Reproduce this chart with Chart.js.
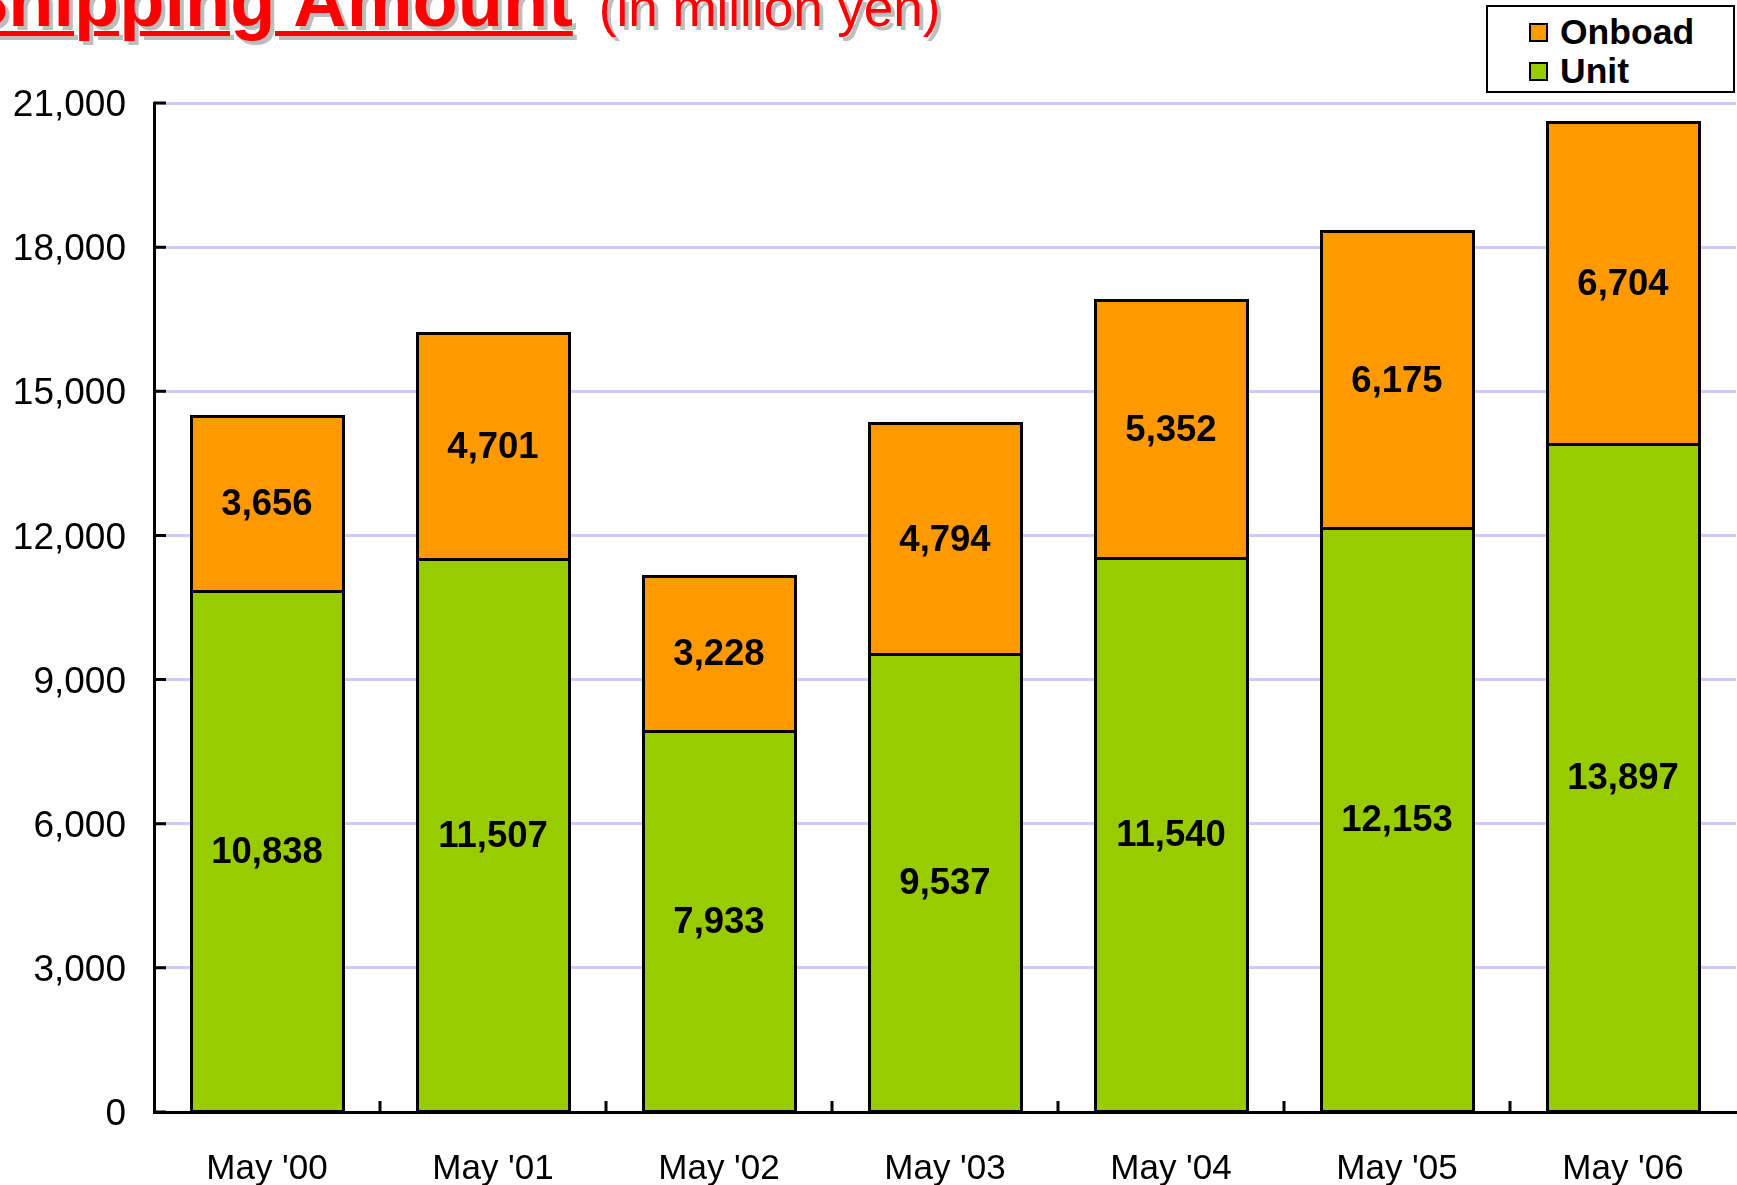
<!DOCTYPE html>
<html>
<head>
<meta charset="utf-8">
<script src="https://cdn.jsdelivr.net/npm/chart.js@4/dist/chart.umd.min.js"></script>
<style>
  body { margin: 0; overflow: hidden; background: #fff; font-family: "Liberation Sans", Arial, sans-serif; }
  #wrap { position: relative; width: 1737px; height: 1185px; }
  #title {
    position: absolute; left: -41px; top: -36px; white-space: nowrap;
    color: #ff0000; line-height: 74px; text-shadow: 4px 4px 0 #bdbdbd;
  }
  #title .main {
    font-size: 74px; font-weight: bold;
    text-decoration: underline; text-decoration-thickness: 5px; text-underline-offset: 5px;
  }
  #title .sub { font-size: 53px; margin-left: 26px; }
  #legend {
    position: absolute; left: 1486px; top: 5px; width: 245px; height: 84px;
    border: 2px solid #000; background: #fff;
  }
  .item { position: absolute; left: 41px; height: 36px; display: flex; align-items: center;
    font-size: 35.5px; font-weight: bold; color: #000; }
  .sw { width: 15px; height: 15px; border: 2px solid #000; margin-right: 12px; }
</style>
</head>
<body>
<div id="wrap">
  <canvas id="myChart"></canvas>
  <div id="title"><span class="main">Shipping Amount</span><span class="sub">(in million yen)</span></div>
  <div id="legend"></div>
</div>
<script>
// donnees du graphique
const categories = ["May '00", "May '01", "May '02", "May '03", "May '04", "May '05", "May '06"];
const unitValues = [10838, 11507, 7933, 9537, 11540, 12153, 13897];
const onboadValues = [3656, 4701, 3228, 4794, 5352, 6175, 6704];
const yTicks = [0, 3000, 6000, 9000, 12000, 15000, 18000, 21000];

const fmt = (v) => v.toLocaleString('en-US');

// contours noirs + valeurs au centre de chaque segment
const valueLabels = {
    id: 'valueLabels',
    afterDatasetsDraw(chart) {
        const ctx = chart.ctx;
        ctx.save();
        ctx.strokeStyle = '#000';
        ctx.lineWidth = 3;
        chart.data.datasets.forEach((ds, i) => {
            chart.getDatasetMeta(i).data.forEach((bar) => {
                const l = Math.round(bar.x - bar.width / 2) + 0.5;
                const r = Math.round(bar.x + bar.width / 2) + 0.5;
                const t = Math.round(bar.y) + 0.5;
                const b = Math.round(bar.base) + 0.5;
                ctx.strokeRect(l, t, r - l, b - t);
            });
        });
        ctx.font = 'bold 36.5px "Liberation Sans", Arial, sans-serif';
        ctx.fillStyle = '#000';
        ctx.textAlign = 'center';
        ctx.textBaseline = 'middle';
        chart.data.datasets.forEach((ds, i) => {
            chart.getDatasetMeta(i).data.forEach((bar, j) => {
                ctx.fillText(fmt(ds.data[j]), bar.x, (bar.y + bar.base) / 2 + 2);
            });
        });
        ctx.restore();
    }
};

// petites graduations vers l'interieur
const innerTicks = {
    id: 'innerTicks',
    afterDraw(chart) {
        const ctx = chart.ctx;
        const x = chart.scales.x, y = chart.scales.y;
        ctx.save();
        ctx.strokeStyle = '#000';
        ctx.lineWidth = 3;
        ctx.beginPath();
        yTicks.forEach(t => {
            const py = y.getPixelForValue(t);
            ctx.moveTo(x.left, py);
            ctx.lineTo(x.left + 12, py);
        });
        for (let i = 1; i < categories.length; i++) {
            const px = (x.getPixelForValue(i - 1) + x.getPixelForValue(i)) / 2;
            ctx.moveTo(px, y.bottom);
            ctx.lineTo(px, y.bottom - 11);
        }
        ctx.stroke();
        ctx.restore();
    }
};

let initChart = () => {
    const data = {
        labels: categories,
        datasets: [
            {
                label: 'Unit',
                data: unitValues,
                backgroundColor: '#99cc00',
                borderWidth: 0,
                barPercentage: 0.67,
                categoryPercentage: 1
            },
            {
                label: 'Onboad',
                data: onboadValues,
                backgroundColor: '#ff9900',
                borderWidth: 0,
                barPercentage: 0.67,
                categoryPercentage: 1
            }
        ]
    };

    const config = {
        type: 'bar',
        data: data,
        options: {
            responsive: true,
            maintainAspectRatio: false,
            animation: false,
            layout: { padding: { top: 103, right: 1, left: 0, bottom: 0 } },
            plugins: { legend: { display: false }, tooltip: { enabled: false } },
            scales: {
                x: {
                    stacked: true,
                    grid: { display: false, drawTicks: false },
                    border: { color: '#000', width: 3 },
                    ticks: { color: '#000', padding: 36, font: { size: 35, family: '"Liberation Sans", Arial' } },
                    afterFit: (s) => { s.height = 73; }
                },
                y: {
                    stacked: true,
                    min: 0,
                    max: 21000,
                    afterBuildTicks: (s) => { s.ticks = yTicks.map(v => ({ value: v })); },
                    grid: { color: '#ccccff', lineWidth: 3, drawTicks: false },
                    border: { color: '#000', width: 3 },
                    ticks: { color: '#000', padding: 28, labelOffset: 3, callback: (v) => fmt(v),
                        font: { size: 37, family: '"Liberation Sans", Arial' } },
                    afterFit: (s) => { s.width = 154; }
                }
            }
        },
        plugins: [valueLabels, innerTicks]
    };

    const myChart = new Chart(document.getElementById('myChart'), config);

    // legende en html (ordre inverse comme dans l'original)
    const legend = document.getElementById('legend');
    [...data.datasets].reverse().forEach((ds, i) => {
        const item = document.createElement('div');
        item.className = 'item';
        item.style.top = (7 + i * 39) + 'px';
        item.innerHTML = '<span class="sw" style="background:' + ds.backgroundColor + '"></span>' + ds.label;
        legend.appendChild(item);
    });
};

initChart();
</script>
</body>
</html>
